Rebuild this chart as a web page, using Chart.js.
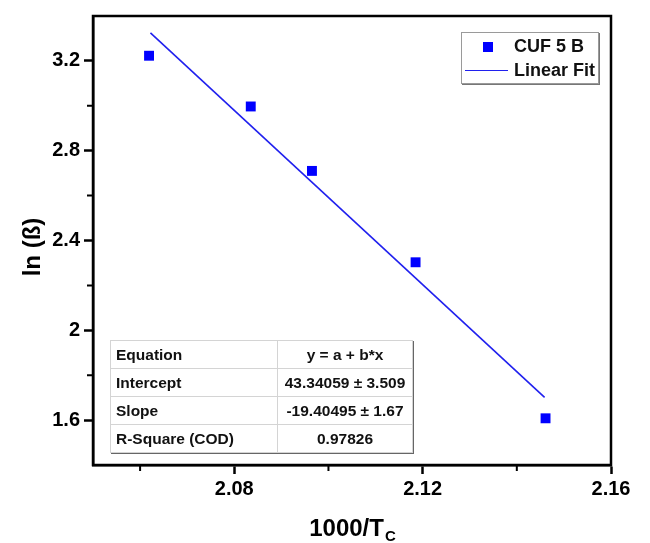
<!DOCTYPE html>
<html>
<head>
<meta charset="utf-8">
<script src="https://cdn.jsdelivr.net/npm/chart.js@4.4.1/dist/chart.umd.min.js"></script>
<style>
  body { margin: 0; background: #fff; font-family: "Liberation Sans", Arial, sans-serif; }
  #wrap { position: relative; width: 650px; height: 543px; }
  #legend {
    position: absolute; left: 461px; top: 32px; width: 136px; height: 50px;
    border: 1px solid #9a9a9a; box-shadow: 1px 1px 0 #777; background: #fff;
    font-weight: bold; font-size: 18px; color: #111;
  }
  #legend .row { position: absolute; left: 0; height: 24px; line-height: 24px; }
  #legend .mk { position: absolute; left: 21px; top: 8px; width: 10px; height: 10px; background: #0000ff; }
  #legend .ln { position: absolute; left: 3px; top: 12px; width: 43px; height: 0; border-top: 1.5px solid #2020ee; }
  #legend .tx { position: absolute; left: 52px; top: 0; white-space: nowrap; }
  #stats {
    position: absolute; left: 110px; top: 340px; border-collapse: collapse;
    border: 1px solid #8a8a8a; box-shadow: 1px 1px 0 #666; background: #fff;
    font-weight: bold; font-size: 15.5px; color: #111;
  }
  #stats td { height: 27px; padding: 0 5px; border: 1px solid #d4d4d4; white-space: nowrap; }
  #stats td.k { width: 156px; }
  #stats td.v { width: 124px; text-align: center; }
</style>
</head>
<body>
<div id="wrap">
  <canvas id="c" width="650" height="543"></canvas>
  <div id="legend">
    <div class="row" style="top:1px"><span class="mk"></span><span class="tx">CUF 5 B</span></div>
    <div class="row" style="top:25px"><span class="ln"></span><span class="tx">Linear Fit</span></div>
  </div>
  <table id="stats"></table>
</div>
<script>
// ln(beta) gegen 1000/Tc, mit linearer Anpassung

const X_VALUES = [2.0619, 2.0835, 2.0965, 2.1185, 2.1461];
const Y_VALUES = [3.223, 2.997, 2.710, 2.303, 1.608];

// Endpunkte der Ausgleichsgeraden
const FIT_X = [2.0622, 2.1459];
const FIT_Y = [3.325, 1.701];

const X_TICKS = [2.08, 2.12, 2.16];
const X_MINOR = [2.06, 2.10, 2.14];
const Y_TICKS = [1.6, 2.0, 2.4, 2.8, 3.2];
const Y_MINOR = [1.8, 2.2, 2.6, 3.0];

const STATS_KEYS = ['Equation', 'Intercept', 'Slope', 'R-Square (COD)'];
const STATS_VALUES = ['y = a + b*x', '43.34059 \u00b1 3.509', '-19.40495 \u00b1 1.67', '0.97826'];

const FONT = '"Liberation Sans", Arial, sans-serif';

document.getElementById('stats').innerHTML = STATS_KEYS
  .map((k, i) => `<tr><td class="k">${k}</td><td class="v">${STATS_VALUES[i]}</td></tr>`)
  .join('');

const yLabel = v => (Math.abs(v - 2) < 1e-9 ? '2' : v.toFixed(1));

// Rahmen, Nebenstriche und Achsentitel
const framePlugin = {
  id: 'frame',
  afterDraw(chart) {
    const { ctx, chartArea: a, scales } = chart;
    ctx.save();
    ctx.strokeStyle = '#000';
    ctx.lineWidth = 2.5;
    ctx.strokeRect(a.left, a.top, a.right - a.left, a.bottom - a.top);

    ctx.lineWidth = 2;
    ctx.beginPath();
    for (const v of X_MINOR) {
      const px = scales.x.getPixelForValue(v);
      ctx.moveTo(px, a.bottom);
      ctx.lineTo(px, a.bottom + 6);
    }
    for (const v of Y_MINOR) {
      const py = scales.y.getPixelForValue(v);
      ctx.moveTo(a.left, py);
      ctx.lineTo(a.left - 6, py);
    }
    ctx.stroke();

    ctx.fillStyle = '#000';
    ctx.textBaseline = 'alphabetic';
    const main = '1000/T', sub = 'C';
    ctx.font = 'bold 24px ' + FONT;
    const w1 = ctx.measureText(main).width;
    ctx.font = 'bold 15px ' + FONT;
    const w2 = ctx.measureText(sub).width;
    const cx = (a.left + a.right) / 2;
    const x0 = cx - (w1 + w2) / 2;
    ctx.textAlign = 'left';
    ctx.font = 'bold 24px ' + FONT;
    ctx.fillText(main, x0, 536);
    ctx.font = 'bold 15px ' + FONT;
    ctx.fillText(sub, x0 + w1 + 1, 541);

    ctx.translate(40, 247);
    ctx.rotate(-Math.PI / 2);
    ctx.textAlign = 'center';
    ctx.font = 'bold 24px ' + FONT;
    ctx.fillText('ln (\u00df)', 0, 0);
    ctx.restore();
  },
};

new Chart(document.getElementById('c'), {
  type: 'scatter',
  data: {
    datasets: [
      {
        label: 'CUF 5 B',
        data: X_VALUES.map((x, i) => ({ x, y: Y_VALUES[i] })),
        pointStyle: 'rect',
        pointRadius: 7,
        pointBackgroundColor: '#0000ff',
        pointBorderWidth: 0,
        borderColor: '#0000ff',
      },
      {
        label: 'Linear Fit',
        data: FIT_X.map((x, i) => ({ x, y: FIT_Y[i] })),
        showLine: true,
        pointRadius: 0,
        borderColor: '#2020ee',
        borderWidth: 1.6,
      },
    ],
  },
  options: {
    responsive: false,
    animation: false,
    layout: { padding: { left: 0, top: 13, right: 39, bottom: 0 } },
    plugins: { legend: { display: false }, tooltip: { enabled: false } },
    scales: {
      x: {
        type: 'linear',
        min: 2.05,
        max: 2.16,
        afterBuildTicks: s => { s.ticks = X_TICKS.map(v => ({ value: v })); },
        afterFit: s => { s.height = 78; },
        border: { display: true, color: '#000', width: 2.5 },
        grid: { drawOnChartArea: false, drawTicks: true, tickLength: 9, tickColor: '#000', tickWidth: 2.5 },
        ticks: {
          color: '#000',
          padding: 3,
          font: { family: FONT, size: 20, weight: 'bold' },
          callback: v => v.toFixed(2),
        },
      },
      y: {
        type: 'linear',
        min: 1.4,
        max: 3.4,
        afterBuildTicks: s => { s.ticks = Y_TICKS.map(v => ({ value: v })); },
        afterFit: s => { s.width = 93; },
        border: { display: true, color: '#000', width: 2.5 },
        grid: { drawOnChartArea: false, drawTicks: true, tickLength: 9, tickColor: '#000', tickWidth: 2.5 },
        ticks: {
          color: '#000',
          padding: 4,
          font: { family: FONT, size: 20, weight: 'bold' },
          callback: v => yLabel(v),
        },
      },
    },
  },
  plugins: [framePlugin],
});
</script>
</body>
</html>
